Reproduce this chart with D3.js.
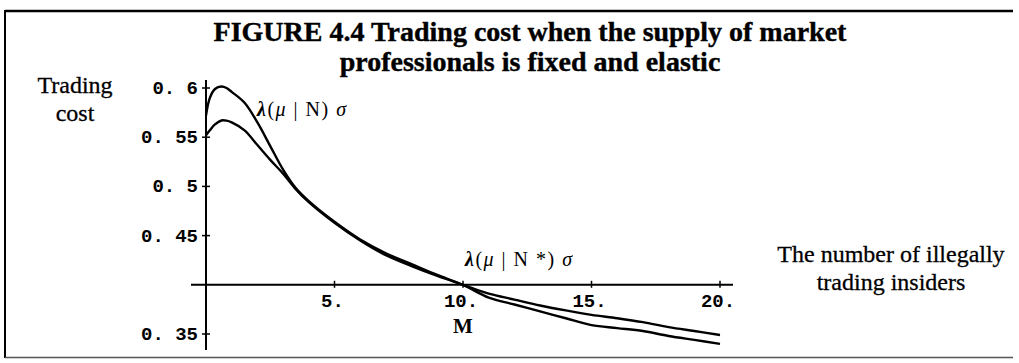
<!DOCTYPE html>
<html>
<head>
<meta charset="utf-8">
<script src="https://cdn.jsdelivr.net/npm/d3@7"></script>
<style>
  html, body { margin: 0; padding: 0; background: #fff; }
  svg { display: block; }
  .serif { font-family: "Liberation Serif", "Times New Roman", serif; fill: #000; }
  .mono { font-family: "Liberation Mono", "Courier New", monospace; font-weight: bold; fill: #000; }
</style>
</head>
<body>
<svg id="chart" width="1019" height="363"></svg>
<script>
// Number of illegally trading insiders (x) and trading cost for each supply regime
const insiders = [0, 0.15, 0.35, 0.6, 0.8, 1, 1.5, 2, 2.5, 3, 3.5, 4, 5, 6, 7, 8, 9, 10,
                  11, 12, 13, 14, 15, 16, 17, 18, 19, 20];
// λ(μ|N)σ — fixed supply of market professionals
const costFixed = [0.572, 0.590, 0.599, 0.6015, 0.600, 0.596, 0.585, 0.565, 0.541, 0.517, 0.498, 0.485,
                   0.464, 0.446, 0.432, 0.421, 0.410, 0.400,
                   0.387, 0.380, 0.373, 0.366, 0.359, 0.356, 0.353, 0.348, 0.344, 0.340];
// λ(μ|N*)σ — elastic supply of market professionals
const costElastic = [0.552, 0.557, 0.563, 0.567, 0.5668, 0.565, 0.557, 0.542, 0.527, 0.513, 0.497, 0.484,
                     0.463, 0.445, 0.430, 0.419, 0.409, 0.400,
                     0.391, 0.385, 0.379, 0.374, 0.3695, 0.366, 0.362, 0.357, 0.353, 0.349];
const xTicks = [5, 10, 15, 20];
const xTickLabels = ["5.", "10.", "15.", "20."];
const yTicks = [0.35, 0.45, 0.5, 0.55, 0.6];
const yTickLabels = ["0. 35", "0. 45", "0. 5", "0. 55", "0. 6"];
const titleLines = ["FIGURE 4.4  Trading cost when the supply of market",
                    "professionals is fixed and elastic"];

const svg = d3.select("#chart");

// Frame (top, left, bottom rules)
svg.append("line").attr("x1", 5).attr("x2", 1013).attr("y1", 11).attr("y2", 11)
  .attr("stroke", "#000").attr("stroke-width", 2.5);
svg.append("line").attr("x1", 5).attr("x2", 5).attr("y1", 10).attr("y2", 358)
  .attr("stroke", "#000").attr("stroke-width", 2);
svg.append("line").attr("x1", 5).attr("x2", 1013).attr("y1", 357.5).attr("y2", 357.5)
  .attr("stroke", "#555").attr("stroke-width", 1.5);

// Title
svg.append("g").selectAll("text").data(titleLines).join("text")
  .attr("class", "serif")
  .attr("x", 530).attr("y", (d, i) => 41 + i * 30)
  .attr("text-anchor", "middle")
  .attr("font-size", 28).attr("font-weight", "bold")
  .attr("stroke", "#000").attr("stroke-width", 0.4)
  .text(d => d);

const x = d3.scaleLinear().domain([0, 20]).range([206, 720]);
const y = d3.scaleLinear().domain([0.35, 0.6]).range([334, 88]);
const origin = 0.4;

// Axes drawn crossing at (0, 0.4)
svg.append("line").attr("x1", 191).attr("x2", 733).attr("y1", y(origin)).attr("y2", y(origin))
  .attr("stroke", "#000").attr("stroke-width", 2);
svg.append("line").attr("x1", x(0)).attr("x2", x(0)).attr("y1", 80).attr("y2", 350)
  .attr("stroke", "#000").attr("stroke-width", 2);

// y ticks and labels
const yt = svg.append("g");
yt.selectAll("line").data(yTicks).join("line")
  .attr("x1", x(0) - 4).attr("x2", x(0) + 4)
  .attr("y1", d => y(d)).attr("y2", d => y(d))
  .attr("stroke", "#000").attr("stroke-width", 1.5);
yt.selectAll("text").data(yTicks).join("text")
  .attr("class", "mono")
  .attr("x", x(0) - 8).attr("y", d => y(d) + 6)
  .attr("text-anchor", "end")
  .attr("font-size", 19)
  .text((d, i) => yTickLabels[i]);

// x ticks and labels
const xt = svg.append("g");
xt.selectAll("line").data(xTicks).join("line")
  .attr("x1", d => x(d)).attr("x2", d => x(d))
  .attr("y1", y(origin) - 4).attr("y2", y(origin) + 3)
  .attr("stroke", "#000").attr("stroke-width", 1.5);
xt.selectAll("text").data(xTicks).join("text")
  .attr("class", "mono")
  .attr("x", d => x(d) - 2).attr("y", y(origin) + 22)
  .attr("text-anchor", "middle")
  .attr("font-size", 19)
  .text((d, i) => xTickLabels[i]);

// Curves
const line = d3.line().x((d, i) => x(insiders[i])).y(d => y(d)).curve(d3.curveCatmullRom.alpha(0.5));
svg.append("path").datum(costFixed).attr("d", line)
  .attr("fill", "none").attr("stroke", "#000").attr("stroke-width", 2.4);
svg.append("path").datum(costElastic).attr("d", line)
  .attr("fill", "none").attr("stroke", "#000").attr("stroke-width", 2.4);

// Curve labels
function curveLabel(px, py, star) {
  const t = svg.append("text").attr("class", "serif")
    .attr("x", px).attr("y", py).attr("font-size", 20).attr("letter-spacing", 1.5);
  t.append("tspan").attr("font-style", "italic").attr("font-weight", "bold").text("λ");
  t.append("tspan").text("(");
  t.append("tspan").attr("font-style", "italic").text("μ");
  t.append("tspan").text(" | N");
  if (star) t.append("tspan").text(" *");
  t.append("tspan").text(")");
  t.append("tspan").attr("font-style", "italic").text(" σ");
}
curveLabel(257, 116, false);
curveLabel(465, 266, true);

// Marker under x = 10
svg.append("text").attr("class", "serif")
  .attr("x", x(10)).attr("y", 333).attr("text-anchor", "middle")
  .attr("font-size", 21).attr("font-weight", "bold").text("M");

// Axis titles
svg.append("g").selectAll("text").data(["Trading", "cost"]).join("text")
  .attr("class", "serif")
  .attr("x", 75).attr("y", (d, i) => 93 + i * 28)
  .attr("text-anchor", "middle").attr("font-size", 24)
  .attr("stroke", "#000").attr("stroke-width", 0.3)
  .text(d => d);
svg.append("g").selectAll("text").data(["The number of illegally", "trading insiders"]).join("text")
  .attr("class", "serif")
  .attr("x", 891).attr("y", (d, i) => 262 + i * 28)
  .attr("text-anchor", "middle").attr("font-size", 24)
  .attr("stroke", "#000").attr("stroke-width", 0.3)
  .text(d => d);
</script>
</body>
</html>
